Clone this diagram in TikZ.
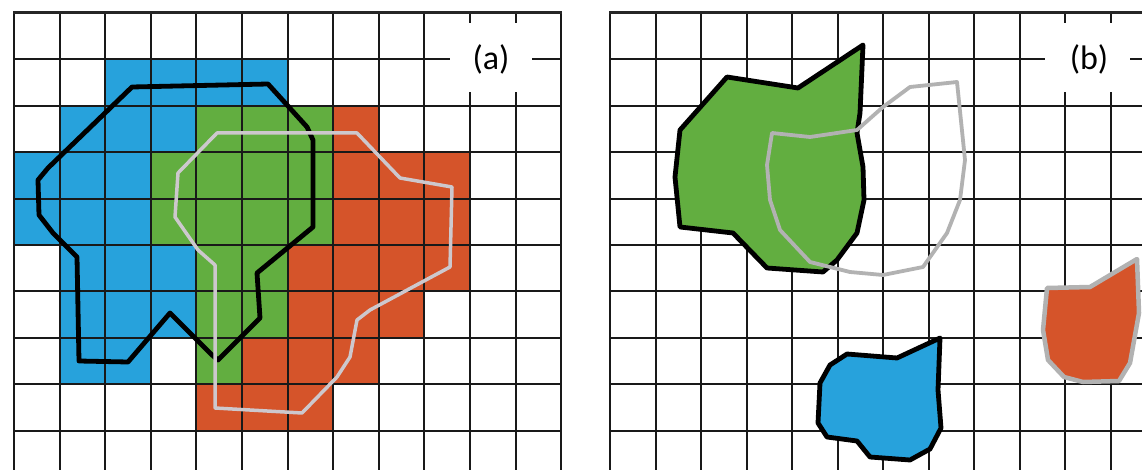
\documentclass[tikz,border=0pt]{standalone}
\usepackage{fontspec}
\setmainfont{Carlito}
\definecolor{cblue}{RGB}{39,162,220}
\definecolor{cgreen}{RGB}{98,174,64}
\definecolor{cred}{RGB}{213,84,42}
\definecolor{lgray}{RGB}{205,200,205}
\definecolor{mgray}{RGB}{178,178,178}
\newcommand\rowfill[4]{\fill[#1] ({14+45.6*#3},{13+46.4*#2}) rectangle ({14+45.6*(#4+1)},{13+46.4*(#2+1)});}
\begin{document}
\begin{tikzpicture}[x=1pt,y=-1pt,
  gridline/.style={line width=2pt, black!90},
  blackoutline/.style={line width=4.8pt, black, line join=round},
  grayoutline/.style={line width=3.5pt, lgray, line join=round},
  rgray/.style={line width=3.8pt, mgray, line join=round},
  labelbox/.style={fill=white},
  labeltext/.style={font=\fontsize{34}{40}\selectfont, inner sep=0pt}]
\useasboundingbox (0,0) rectangle (1142,470);
\fill[white] (0,0) rectangle (1142,470);
% ---------- panel (a): cells ----------
\rowfill{cblue}{1}{2}{5}
\rowfill{cblue}{2}{1}{3}
\rowfill{cblue}{3}{0}{2}
\rowfill{cblue}{4}{0}{2}
\rowfill{cblue}{5}{1}{3}
\rowfill{cblue}{6}{1}{3}
\rowfill{cblue}{7}{1}{2}
\rowfill{cgreen}{2}{4}{6}
\rowfill{cgreen}{3}{3}{6}
\rowfill{cgreen}{4}{3}{6}
\rowfill{cgreen}{5}{4}{5}
\rowfill{cgreen}{6}{4}{5}
\rowfill{cgreen}{7}{4}{4}
\rowfill{cred}{2}{7}{7}
\rowfill{cred}{3}{7}{9}
\rowfill{cred}{4}{7}{9}
\rowfill{cred}{5}{6}{9}
\rowfill{cred}{6}{6}{8}
\rowfill{cred}{7}{5}{7}
\rowfill{cred}{8}{4}{6}
% ---------- panel (a): grid ----------
\foreach \i in {0,...,12} \draw[gridline] ({14+45.6*\i},13) -- ({14+45.6*\i},470);
\foreach \j in {1,...,9} \draw[gridline] (14,{13+46.4*\j}) -- (561,{13+46.4*\j});
\draw[line width=3pt, black!85] (13,13) -- (562,13);
% ---------- panel (a): outlines ----------
\draw[blackoutline] (132,87) -- (268,84) -- (307,127) -- (313,140) -- (313,227) -- (257,273)
  -- (260,318) -- (218,360) -- (212,355) -- (170,313) -- (128,362) -- (79,361) -- (77,257)
  -- (53,233) -- (39,215) -- (38,180) -- (48,168) -- cycle;
\draw[grayoutline] (217,133) -- (357,133) -- (400,178) -- (452,187) -- (450,267) -- (370,310)
  -- (357,320) -- (350,357) -- (337,377) -- (302,413) -- (215,408) -- (215,265) -- (198,250)
  -- (175,217) -- (178,173) -- cycle;
% ---------- panel (b): grid ----------
\foreach \i in {0,...,11} \draw[gridline] ({610+45.5*\i},13) -- ({610+45.5*\i},470);
\foreach \j in {1,...,9} \draw[gridline] (610,{13+46.4*\j}) -- (1142,{13+46.4*\j});
\draw[line width=3pt, black!85] (609,13) -- (1142,13);
% ---------- panel (b): shapes ----------
\draw[blackoutline, fill=cgreen] (727,77) -- (798,88) -- (863,45) -- (860,113) -- (857,133)
  -- (863,167) -- (864,200) -- (857,233) -- (837,260) -- (823,272) -- (767,268) -- (733,233)
  -- (680,227) -- (675,177) -- (680,130) -- cycle;
\draw[rgray] (772,133) -- (810,137) -- (857,130) -- (883,107) -- (910,87) -- (957,82)
  -- (965,160) -- (960,200) -- (947,233) -- (923,267) -- (883,275) -- (850,272) -- (810,262)
  -- (780,230) -- (770,200) -- (767,165) -- cycle;
\draw[blackoutline, fill=cblue] (847,354) -- (897,358) -- (940,338) -- (938,390) -- (941,428)
  -- (930,449) -- (910,460) -- (870,457) -- (857,441) -- (827,437) -- (818,423) -- (820,383)
  -- (830,365) -- cycle;
\draw[rgray, line width=4.5pt, fill=cred] (1047,288) -- (1090,287) -- (1137,259) -- (1139,313)
  -- (1130,363) -- (1119,381) -- (1083,382) -- (1064,377) -- (1048,360) -- (1043,330) -- cycle;
% ---------- labels ----------
\fill[labelbox] (450,23) rectangle (532,92);
\node[labeltext] (la) at (491,59) {(a)};
\fill[labelbox] (1045,23) rectangle (1130,92);
\node[labeltext] (lb) at (1089,59) {(b)};
\end{tikzpicture}
\end{document}
